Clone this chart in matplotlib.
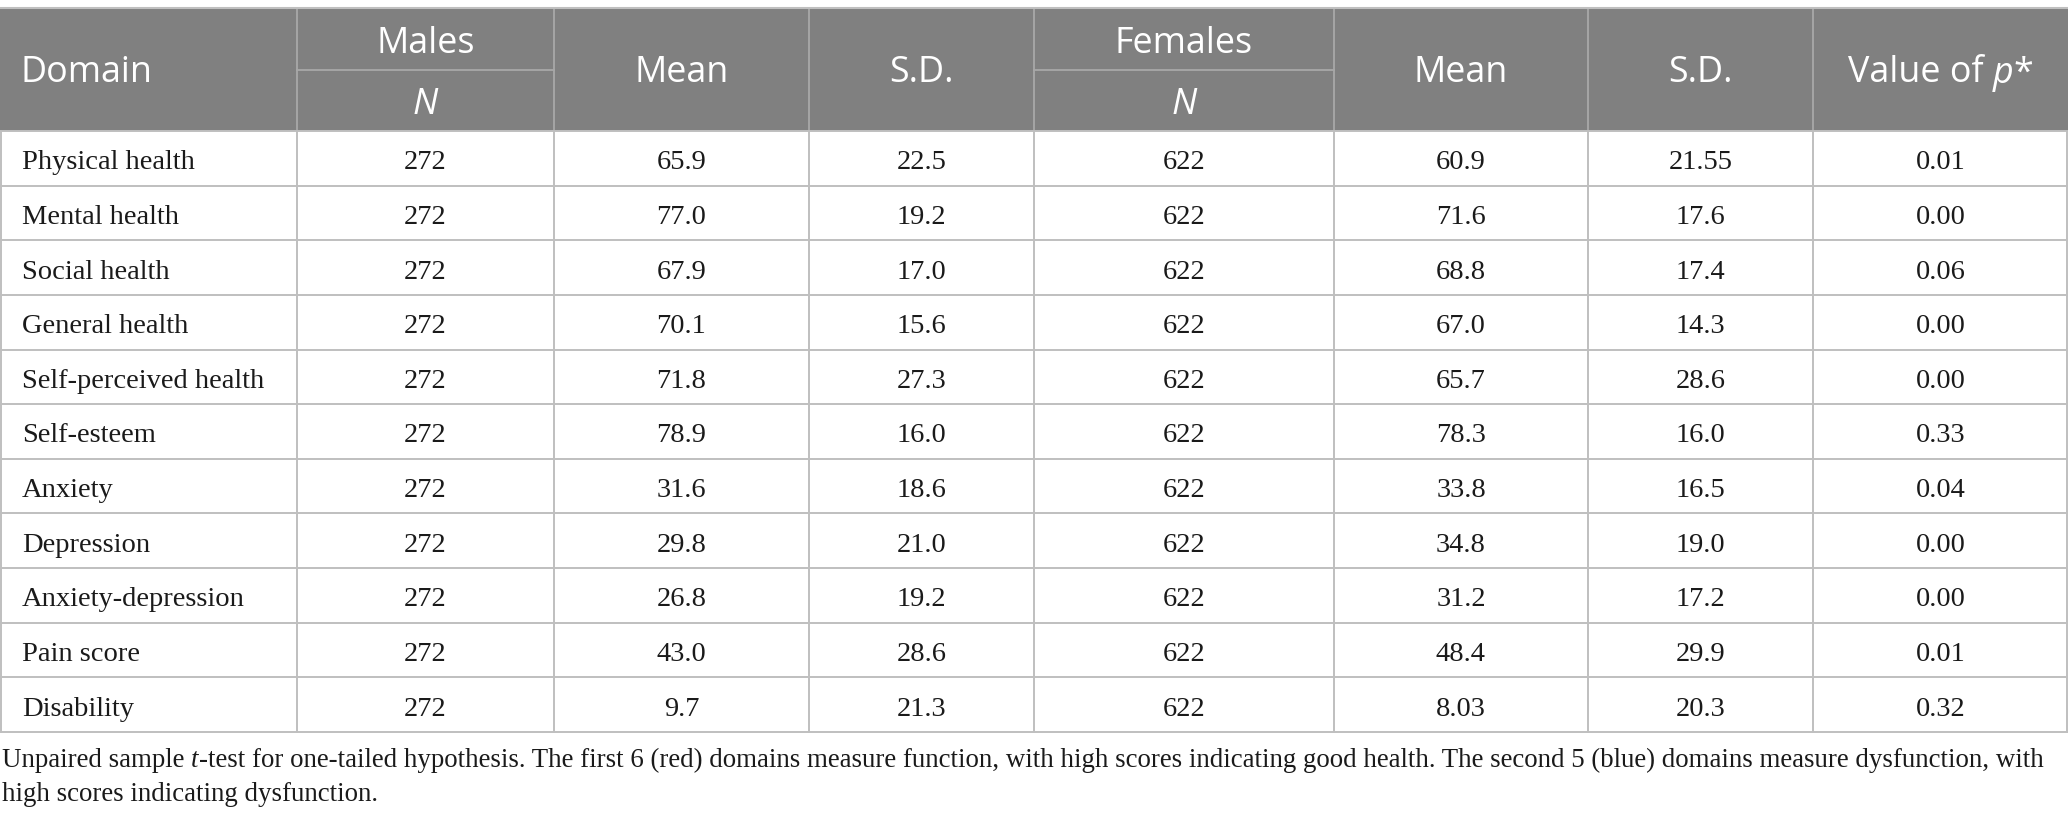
import matplotlib
matplotlib.use("Agg")
import matplotlib.pyplot as plt
from matplotlib.patches import Rectangle

# ---------------- data ----------------
domains = ["Physical health", "Mental health", "Social health", "General health",
           "Self-perceived health", "Self-esteem", "Anxiety", "Depression",
           "Anxiety-depression", "Pain score", "Disability"]
males_n = ["272"] * 11
males_mean = ["65.9", "77.0", "67.9", "70.1", "71.8", "78.9", "31.6", "29.8", "26.8", "43.0", "9.7"]
males_sd = ["22.5", "19.2", "17.0", "15.6", "27.3", "16.0", "18.6", "21.0", "19.2", "28.6", "21.3"]
females_n = ["622"] * 11
females_mean = ["60.9", "71.6", "68.8", "67.0", "65.7", "78.3", "33.8", "34.8", "31.2", "48.4", "8.03"]
females_sd = ["21.55", "17.6", "17.4", "14.3", "28.6", "16.0", "16.5", "19.0", "17.2", "29.9", "20.3"]
p_values = ["0.01", "0.00", "0.06", "0.00", "0.00", "0.33", "0.04", "0.00", "0.00", "0.01", "0.32"]

footnote_lines = [
    [("Unpaired sample ", "normal"), ("t", "italic"),
     ("-test for one-tailed hypothesis. The first 6 (red) domains measure function, with high scores "
      "indicating good health. The second 5 (blue) domains measure dysfunction, with", "normal")],
    [("high scores indicating dysfunction.", "normal")],
]

# ---------------- layout ----------------
W, H = 2068, 826
col_edges = [0, 297, 554, 809, 1034, 1334, 1588, 1813, 2068]
top = 8
sub = 70
head_bot = 131
tbl_bot = 732
n_rows = len(domains)
row_h = (tbl_bot - head_bot) / n_rows

HEAD_BG = "#808080"
HEAD_LINE = "#a8a8a8"
GRID = "#bfbfbf"
TXT = "#1a1a1a"
SANS = ["Open Sans", "DejaVu Sans"]
SERIF = ["Liberation Serif", "DejaVu Serif"]
HFS = 25.8
BFS = 20.5
FFS = 19.4

fig = plt.figure(figsize=(W / 100, H / 100), dpi=100)
ax = fig.add_axes([0, 0, 1, 1])
ax.set_xlim(0, W)
ax.set_ylim(H, 0)
ax.axis("off")
renderer = fig.canvas.get_renderer()


def rich(x, y, pieces, ha, fs, family, color, max_w=None):
    objs = []
    for s, st in pieces:
        t = ax.text(0, y, s, fontsize=fs, family=family, style=st, color=color,
                    ha="left", va="baseline")
        objs.append(t)
    widths = [t.get_window_extent(renderer).width for t in objs]
    total = sum(widths)
    if max_w is not None and total > max_w:
        scale = max_w / total
        for t in objs:
            t.set_fontsize(fs * scale)
        widths = [t.get_window_extent(renderer).width for t in objs]
        total = sum(widths)
    if ha == "center":
        x0 = x - total / 2
    elif ha == "right":
        x0 = x - total
    else:
        x0 = x
    for t, w in zip(objs, widths):
        t.set_x(x0)
        x0 += w


# header background
ax.add_patch(Rectangle((0, top), W, head_bot - top, facecolor=HEAD_BG, edgecolor="none", zorder=0))
# header internal lines
for xe in col_edges[1:-1]:
    ax.plot([xe, xe], [top, head_bot], color=HEAD_LINE, lw=1.3, zorder=1)
for (a, b) in [(col_edges[1], col_edges[2]), (col_edges[4], col_edges[5])]:
    ax.plot([a, b], [sub, sub], color=HEAD_LINE, lw=1.3, zorder=1)
ax.plot([0, W], [top, top], color=GRID, lw=1.5, zorder=2)

# header texts
cc = [(col_edges[i] + col_edges[i + 1]) / 2 for i in range(len(col_edges) - 1)]
mid_base = (top + head_bot) / 2 + 13
up_base = (top + sub) / 2 + 14
low_base = (sub + head_bot) / 2 + 13
ax.text(21, mid_base, "Domain", fontsize=HFS, family=SANS, color="white", ha="left", va="baseline")
ax.text(cc[1], up_base, "Males", fontsize=HFS, family=SANS, color="white", ha="center", va="baseline")
ax.text(cc[1], low_base, "N", fontsize=HFS, family=SANS, style="italic", color="white", ha="center", va="baseline")
ax.text(cc[2], mid_base, "Mean", fontsize=HFS, family=SANS, color="white", ha="center", va="baseline")
ax.text(cc[3], mid_base, "S.D.", fontsize=HFS, family=SANS, color="white", ha="center", va="baseline")
ax.text(cc[4], up_base, "Females", fontsize=HFS, family=SANS, color="white", ha="center", va="baseline")
ax.text(cc[4], low_base, "N", fontsize=HFS, family=SANS, style="italic", color="white", ha="center", va="baseline")
ax.text(cc[5], mid_base, "Mean", fontsize=HFS, family=SANS, color="white", ha="center", va="baseline")
ax.text(cc[6], mid_base, "S.D.", fontsize=HFS, family=SANS, color="white", ha="center", va="baseline")
rich(cc[7], mid_base, [("Value of ", "normal"), ("p", "italic"), ("*", "normal")], "center", HFS, SANS, "white")

# body grid
for i in range(n_rows + 1):
    yy = head_bot + i * row_h
    ax.plot([0, W], [yy, yy], color=GRID, lw=1.4, zorder=2)
for xe in col_edges:
    xx = min(max(xe, 0.7), W - 0.7)
    ax.plot([xx, xx], [head_bot, tbl_bot], color=GRID, lw=1.4, zorder=2)

# body texts
columns = [males_n, males_mean, males_sd, females_n, females_mean, females_sd, p_values]
for i, d in enumerate(domains):
    base = head_bot + (i + 0.5) * row_h + 11
    ax.text(22, base, d, fontsize=BFS, family=SERIF, color=TXT, ha="left", va="baseline")
    for j, col in enumerate(columns):
        ax.text(cc[j + 1], base, col[i], fontsize=BFS, family=SERIF, color=TXT, ha="center", va="baseline")

# footnote
for k, pieces in enumerate(footnote_lines):
    rich(2, 767 + 34 * k, pieces, "left", FFS, SERIF, TXT, max_w=2050)

fig.savefig("out.png", dpi=100)
